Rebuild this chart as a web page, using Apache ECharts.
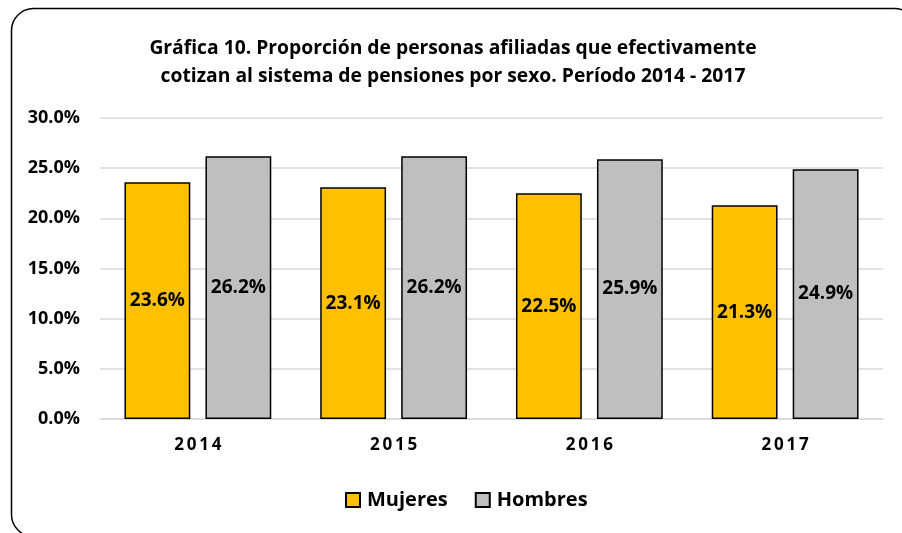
<!DOCTYPE html>
<html>
<head>
<meta charset="utf-8">
<script src="https://cdn.jsdelivr.net/npm/echarts@6/dist/echarts.min.js"></script>
<style>
  html, body { margin: 0; padding: 0; background: #fff; }
  #chart { width: 902px; height: 533px; }
</style>
</head>
<body>
<div id="chart"></div>
<script>
// datos
var years = ['2014', '2015', '2016', '2017'];
var mujeres = [23.6, 23.1, 22.5, 21.3];
var hombres = [26.2, 26.2, 25.9, 24.9];
var seriesNames = ['Mujeres', 'Hombres'];

var font = 'Open Sans';
var myChart = echarts.init(document.getElementById('chart'));

var labelCfg = {
  show: true,
  position: 'inside',
  color: '#000',
  fontWeight: 'bold',
  fontSize: 19,
  fontFamily: font,
  formatter: function (p) { return p.value.toFixed(1) + '%'; }
};

var option = {
  backgroundColor: '#fff',
  animation: false,
  graphic: [{
    type: 'rect',
    left: 9,
    top: 6,
    shape: { width: 905, height: 528, r: 22 },
    style: { fill: 'none', stroke: '#000', lineWidth: 1.5 },
    silent: true
  }],
  title: {
    text: 'Gráfica 10. Proporción de personas afiliadas que efectivamente\ncotizan al sistema de pensiones por sexo. Período 2014 - 2017',
    left: 448,
    textAlign: 'center',
    top: 30,
    textStyle: {
      fontFamily: font,
      fontWeight: 'bold',
      fontSize: 19.3,
      lineHeight: 28,
      color: '#000'
    }
  },
  grid: {
    left: 100,
    right: 19,
    top: 118,
    bottom: 114
  },
  legend: {
    data: seriesNames,
    top: 485,
    left: 340,
    itemWidth: 14,
    itemHeight: 14,
    itemGap: 27,
    icon: 'rect',
    textStyle: {
      fontFamily: font,
      fontWeight: 'bold',
      fontSize: 20,
      color: '#000',
      padding: [0, 0, 0, 2]
    }
  },
  xAxis: {
    type: 'category',
    data: years,
    axisTick: { show: false },
    axisLine: { lineStyle: { color: '#D9D9D9', width: 1.5 } },
    axisLabel: {
      margin: 18,
      color: '#000',
      fontFamily: font,
      fontWeight: 'bold',
      fontSize: 17,
      // espaciado entre caracteres como en el original
      formatter: function (v) { return v.split('').join('\u2009'); }
    }
  },
  yAxis: {
    type: 'value',
    min: 0,
    max: 30,
    interval: 5,
    axisLine: { show: false },
    axisTick: { show: false },
    splitLine: { lineStyle: { color: '#D9D9D9', width: 1.5 } },
    axisLabel: {
      margin: 20,
      color: '#000',
      fontFamily: font,
      fontWeight: 'bold',
      fontSize: 18,
      formatter: function (v) { return v.toFixed(1) + '%'; }
    }
  },
  series: [
    {
      name: seriesNames[0],
      type: 'bar',
      data: mujeres,
      barGap: '23%',
      barCategoryGap: '25%',
      itemStyle: { color: '#FFC000', borderColor: '#000', borderWidth: 1.5 },
      label: labelCfg
    },
    {
      name: seriesNames[1],
      type: 'bar',
      data: hombres,
      barGap: '23%',
      barCategoryGap: '25%',
      itemStyle: { color: '#BFBFBF', borderColor: '#000', borderWidth: 1.5 },
      label: labelCfg
    }
  ]
};

myChart.setOption(option);
</script>
</body>
</html>
